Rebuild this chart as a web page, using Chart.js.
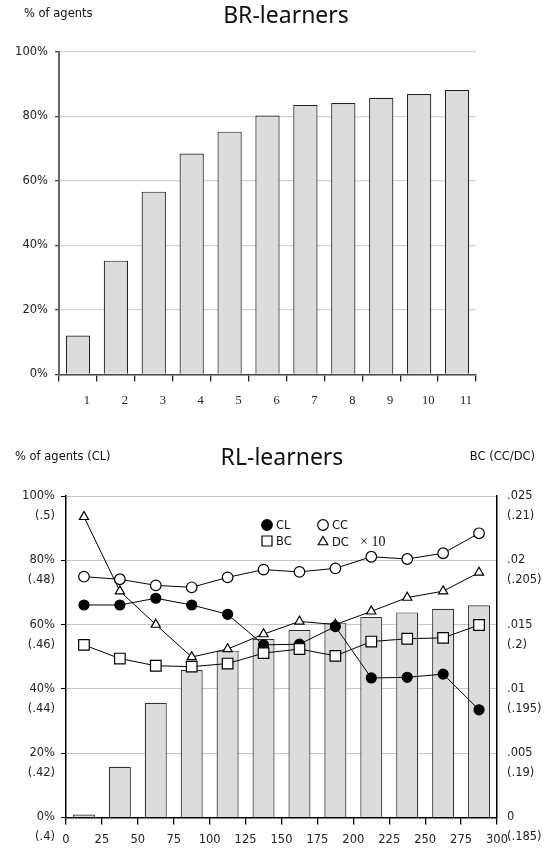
<!DOCTYPE html>
<html>
<head>
<meta charset="utf-8">
<script src="https://cdn.jsdelivr.net/npm/chart.js@4"></script>
<style>
  body { margin: 0; background: #fff; }
  canvas { display: block; }
</style>
</head>
<body>
<canvas id="brChart" width="548" height="420"></canvas>
<canvas id="rlChart" width="548" height="428"></canvas>
<script>
// BR-learners: share of agents per period
const brPeriods = ["1", "2", "3", "4", "5", "6", "7", "8", "9", "10", "11"];
const brShares = [12.1, 35.3, 56.7, 68.5, 75.3, 80.3, 83.6, 84.2, 85.8, 87.0, 88.2];
const brTicks = ["0%", "20%", "40%", "60%", "80%", "100%"];

// RL-learners: rounds (bin centres), share of agents and the four indicators
const rlRounds = [12.5, 37.5, 62.5, 87.5, 112.5, 137.5, 162.5, 187.5, 212.5, 237.5, 262.5, 287.5];
const rlShares = [0.9, 15.8, 35.7, 45.9, 51.9, 55.6, 58.4, 60.6, 62.4, 63.8, 64.9, 66.0];
const clValues = [66.1, 66.1, 68.2, 66.1, 63.2, 53.7, 53.9, 59.4, 43.4, 43.6, 44.6, 33.5];
const ccValues = [0.4749, 0.4741, 0.4722, 0.4716, 0.4747, 0.4771, 0.4764, 0.4775, 0.4811, 0.4804, 0.4822, 0.4884];
const bcValues = [0.01342, 0.01236, 0.0118, 0.01173, 0.01197, 0.01278, 0.0131, 0.01257, 0.01368, 0.0139, 0.01397, 0.01497];
const dcValues = [0.20838, 0.2026, 0.2000, 0.19748, 0.1981, 0.19926, 0.20025, 0.2000, 0.20103, 0.2021, 0.2026, 0.20405];
const rlXTicks = ["0", "25", "50", "75", "100", "125", "150", "175", "200", "225", "250", "275", "300"];
const rlLeftTicks = [["0%", "(.4)"], ["20%", "(.42)"], ["40%", "(.44)"], ["60%", "(.46)"], ["80%", "(.48)"], ["100%", "(.5)"]];
const rlRightTicks = [["0", "(.185)"], [".005", "(.19)"], [".01", "(.195)"], [".015", "(.2)"], [".02", "(.205)"], [".025", "(.21)"]];

const SANS = "'DejaVu Sans', sans-serif";
const tickFont = { family: SANS, size: 11.5 };

// plain text (titles, axis headers)
const textPlugin = (id, items) => ({
  id: id,
  afterDraw: (chart) => {
    const ctx = chart.ctx;
    ctx.save();
    ctx.textBaseline = "middle";
    items.forEach((t) => {
      ctx.font = t.font;
      ctx.fillStyle = t.color || "#111";
      ctx.textAlign = t.align;
      ctx.fillText(t.text, t.x, t.y);
    });
    ctx.restore();
  },
});

const drawMarker = (ctx, style, x, y, r, fill) => {
  ctx.beginPath();
  if (style === "circle") {
    ctx.arc(x, y, r, 0, Math.PI * 2);
  } else if (style === "rect") {
    ctx.rect(x - r, y - r, 2 * r, 2 * r);
  } else {
    ctx.moveTo(x, y - r);
    ctx.lineTo(x + r * 0.866, y + r / 2);
    ctx.lineTo(x - r * 0.866, y + r / 2);
    ctx.closePath();
  }
  ctx.fillStyle = fill;
  ctx.fill();
  ctx.strokeStyle = "#000";
  ctx.lineWidth = 1.2;
  ctx.stroke();
};

// legend inside the plot
const legendPlugin = {
  id: "rlLegend",
  afterDraw: (chart) => {
    const ctx = chart.ctx;
    const items = [
      { label: "CL", style: "circle", fill: "#000", r: 5.3, x: 267, y: 105 },
      { label: "CC", style: "circle", fill: "#fff", r: 5.3, x: 323, y: 105 },
      { label: "BC", style: "rect", fill: "#fff", r: 5, x: 267, y: 121 },
      { label: "DC", style: "triangle", fill: "#fff", r: 5.5, x: 323, y: 122 },
    ];
    ctx.save();
    items.forEach((it) => {
      drawMarker(ctx, it.style, it.x, it.y, it.r, it.fill);
      ctx.font = "11.5px " + SANS;
      ctx.fillStyle = "#111";
      ctx.textAlign = "left";
      ctx.textBaseline = "middle";
      ctx.fillText(it.label, it.x + 9, 2 + Math.round(it.y - 1));
    });
    ctx.font = "14px 'Liberation Serif', serif";
    ctx.fillText("\u00d7 10", 360, 122);
    ctx.restore();
  },
};

new Chart(document.getElementById("brChart"), {
  type: "bar",
  data: {
    labels: brPeriods,
    datasets: [
      {
        data: brShares,
        backgroundColor: "#dcdcdc",
        borderColor: "#222",
        borderWidth: 1.2,
        barPercentage: 0.64,
        categoryPercentage: 1,
      },
    ],
  },
  options: {
    responsive: false,
    animation: false,
    layout: { padding: { top: 52, right: 72, bottom: 0, left: 0 } },
    plugins: {
      legend: { display: false },
      tooltip: { enabled: false },
    },
    scales: {
      x: {
        offset: true,
        grid: { offset: true, drawOnChartArea: false, tickLength: 7, color: "#222", lineWidth: 1.3 },
        border: { color: "#444", width: 1.5 },
        ticks: {
          font: { family: "'Liberation Serif', serif", size: 12.5 },
          color: "#222",
          labelOffset: 9,
          padding: 12,
          maxRotation: 0,
        },
        afterFit: (s) => { s.height = 45.5; },
      },
      y: {
        min: 0,
        max: 100,
        grid: { color: "#d4d4d4", lineWidth: 1.3, tickLength: 4, tickColor: "#444" },
        border: { color: "#666", width: 2 },
        ticks: {
          stepSize: 20,
          font: tickFont,
          color: "#222",
          padding: 7,
          callback: (v, i) => brTicks[i],
        },
        afterFit: (s) => { s.width = 59; },
      },
    },
  },
  plugins: [
    textPlugin("brTexts", [
      { text: "% of agents", x: 24, y: 14, align: "left", font: "11.5px " + SANS },
      { text: "BR-learners", x: 286, y: 16, align: "center", font: "23px 'Noto Sans', sans-serif" },
    ]),
  ],
});

const lineStyle = {
  type: "line",
  borderColor: "#000",
  borderWidth: 1,
  pointBorderColor: "#000",
  pointBorderWidth: 1.2,
  pointBackgroundColor: "#fff",
};

const pts = (vals) => rlRounds.map((x, i) => ({ x: x, y: vals[i] }));

// the two-line tick labels must not push the plot area inwards
const noLabelPadding = (s, w) => {
  s.width = w;
  s.paddingTop = 0;
  s.paddingBottom = 0;
};

new Chart(document.getElementById("rlChart"), {
  type: "bar",
  data: {
    datasets: [
      { ...lineStyle, label: "BC", data: pts(bcValues), yAxisID: "yBC", pointStyle: "rect", pointRadius: 7.5 },
      { ...lineStyle, label: "CL", data: pts(clValues), yAxisID: "y", pointStyle: "circle", pointRadius: 5, pointBackgroundColor: "#000" },
      { ...lineStyle, label: "CC", data: pts(ccValues), yAxisID: "yCC", pointStyle: "circle", pointRadius: 5.3 },
      { ...lineStyle, label: "DC", data: pts(dcValues), yAxisID: "yDC", pointStyle: "triangle", pointRadius: 5.3 },
      {
        label: "agents",
        data: pts(rlShares),
        yAxisID: "y",
        backgroundColor: "#dcdcdc",
        borderColor: "#333",
        borderWidth: 1.2,
        barPercentage: 0.613,
        categoryPercentage: 1,
      },
    ],
  },
  options: {
    responsive: false,
    animation: false,
    layout: { padding: { top: 76, right: 0, bottom: 0, left: 0 } },
    plugins: {
      legend: { display: false },
      tooltip: { enabled: false },
    },
    scales: {
      x: {
        type: "linear",
        min: 0,
        max: 300,
        offset: false,
        grid: { offset: false, drawOnChartArea: false, tickLength: 7, color: "#000", lineWidth: 1.3 },
        border: { color: "#000", width: 1.5 },
        ticks: {
          stepSize: 25,
          font: tickFont,
          color: "#222",
          padding: 8.5,
          maxRotation: 0,
          autoSkip: false,
          callback: (v, i) => rlXTicks[i],
        },
        afterFit: (s) => { s.height = 30.5; },
      },
      y: {
        position: "left",
        min: 0,
        max: 100,
        grid: { color: "#c8c8c8", lineWidth: 1, tickLength: 5, tickColor: "#000" },
        border: { color: "#000", width: 1.5 },
        ticks: {
          stepSize: 20,
          autoSkip: false,
          font: { family: SANS, size: 11.5, lineHeight: "20px" },
          color: "#222",
          padding: 6,
          callback: (v, i) => ["", ...rlLeftTicks[i]],
        },
        afterFit: (s) => noLabelPadding(s, 66),
      },
      yBC: {
        position: "right",
        min: 0,
        max: 0.025,
        grid: { drawOnChartArea: false, drawTicks: false },
        border: { color: "#000", width: 1.5 },
        ticks: {
          stepSize: 0.005,
          autoSkip: false,
          font: { family: SANS, size: 11.5, lineHeight: "20px" },
          color: "#222",
          padding: 10,
          callback: (v, i) => ["", ...rlRightTicks[i]],
        },
        afterFit: (s) => noLabelPadding(s, 51),
      },
      yCC: { display: false, min: 0.4, max: 0.5 },
      yDC: { display: false, min: 0.185, max: 0.21 },
    },
  },
  plugins: [
    textPlugin("rlTexts", [
      { text: "% of agents (CL)", x: 15, y: 37.5, align: "left", font: "11.5px " + SANS },
      { text: "RL-learners", x: 282, y: 38, align: "center", font: "23px 'Noto Sans', sans-serif" },
      { text: "BC (CC/DC)", x: 535, y: 37.5, align: "right", font: "11.5px " + SANS },
    ]),
    legendPlugin,
  ],
});
</script>
</body>
</html>
